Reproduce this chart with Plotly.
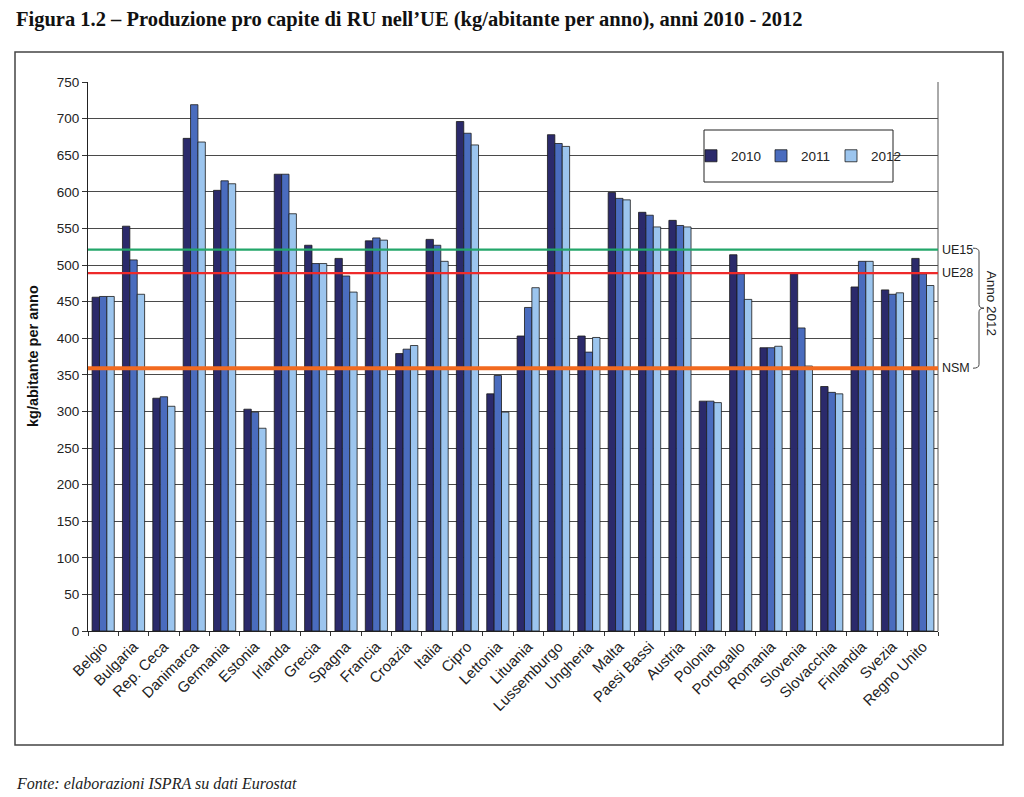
import plotly.graph_objects as go

regions = ["Belgio", "Bulgaria", "Rep. Ceca", "Danimarca", "Germania", "Estonia", "Irlanda",
           "Grecia", "Spagna", "Francia", "Croazia", "Italia", "Cipro", "Lettonia", "Lituania",
           "Lussemburgo", "Ungheria", "Malta", "Paesi Bassi", "Austria", "Polonia", "Portogallo",
           "Romania", "Slovenia", "Slovacchia", "Finlandia", "Svezia", "Regno Unito"]
v2010 = [456, 553, 318, 673, 602, 303, 624, 527, 509, 533, 379, 535, 696, 324, 403,
         678, 403, 599, 572, 561, 314, 514, 387, 488, 334, 470, 466, 509]
v2011 = [457, 507, 320, 719, 615, 299, 624, 502, 485, 537, 385, 527, 680, 349, 442,
         666, 381, 591, 568, 554, 314, 488, 387, 414, 326, 505, 460, 488]
v2012 = [457, 460, 307, 668, 611, 277, 570, 502, 463, 534, 390, 505, 664, 299, 469,
         662, 401, 589, 552, 552, 312, 453, 389, 362, 324, 505, 462, 472]
series_names = ["2010", "2011", "2012"]
series_colors = ["#2B2A6B", "#4A6CBE", "#9CC5EE"]

ref_labels = ["UE15", "UE28", "NSM"]
ref_values = [521, 489, 359]
ref_colors = ["#23A66A", "#EE2A2A", "#F26A1F"]
ref_widths = [2.2, 2.2, 4]

title_text = "Figura 1.2 \u2013 Produzione pro capite di RU nell\u2019UE (kg/abitante per anno), anni 2010 - 2012"
source_text = "Fonte: elaborazioni ISPRA su dati Eurostat"

W, H = 1024, 797
L, R, T, B = 88, 938, 82, 631
def px(x):
    return (x - L) / (R - L)
def py(y):
    return (B - y) / (B - T)

fig = go.Figure()
for name, vals, col in zip(series_names, [v2010, v2011, v2012], series_colors):
    fig.add_trace(go.Bar(x=regions, y=vals, name=name,
                         marker=dict(color=col, line=dict(color="#1a1a1a", width=0.8))))

shapes = []
annotations = []
# outer frame
shapes.append(dict(type="rect", xref="paper", yref="paper",
                   x0=px(15), x1=px(1003), y0=py(745), y1=py(52),
                   line=dict(color="#444", width=1.5), layer="below"))
# right border of plot area
shapes.append(dict(type="line", xref="x domain", yref="y domain", x0=1, x1=1, y0=0, y1=1,
                   line=dict(color="#555", width=1)))
for lab, val, col, w in zip(ref_labels, ref_values, ref_colors, ref_widths):
    shapes.append(dict(type="line", xref="x domain", yref="y", x0=0, x1=1, y0=val, y1=val,
                       line=dict(color=col, width=w), layer="above"))
    annotations.append(dict(text=lab, xref="paper", yref="y", x=px(940), y=val,
                            xanchor="left", yanchor="middle", showarrow=False,
                            font=dict(family="Liberation Sans", size=12.5, color="#222")))
# legend box
shapes.append(dict(type="rect", xref="paper", yref="paper",
                   x0=px(704), x1=px(893), y0=py(182), y1=py(130),
                   fillcolor="white", line=dict(color="#222", width=1), layer="above"))
# brace
top, bot = ref_values[0] + 2, ref_values[-1]
mid = (top + bot) / 2
xa, xb, xc = px(973), px(979), px(984)
d = 5
path = (f"M {xa},{top} Q {xb},{top} {xb},{top-d} L {xb},{mid+d} Q {xb},{mid} {xc},{mid} "
        f"Q {xb},{mid} {xb},{mid-d} L {xb},{bot+d} Q {xb},{bot} {xa},{bot}")
shapes.append(dict(type="path", xref="paper", yref="y", path=path,
                   line=dict(color="#444", width=1)))
annotations.append(dict(text="Anno 2012", xref="paper", yref="y", x=px(991), y=mid + 6,
                        textangle=90, showarrow=False, xanchor="center", yanchor="middle",
                        font=dict(family="Liberation Sans", size=13.5, color="#222")))
annotations.append(dict(text="<b>" + title_text + "</b>", xref="paper", yref="paper",
                        x=px(14), y=py(19), xanchor="left", yanchor="middle", showarrow=False,
                        font=dict(family="Liberation Serif", size=20.5, color="#111")))
annotations.append(dict(text="<i>" + source_text + "</i>", xref="paper", yref="paper",
                        x=px(14), y=py(783), xanchor="left", yanchor="middle", showarrow=False,
                        font=dict(family="Liberation Serif", size=16, color="#222")))
annotations.append(dict(text="<b>kg/abitante per anno</b>", xref="paper", yref="paper",
                        x=px(33), y=py(356), textangle=-90, xanchor="center", yanchor="middle",
                        showarrow=False, font=dict(family="Liberation Sans", size=14.5, color="#111")))

fig.update_layout(
    width=W, height=H,
    margin=dict(l=L, r=W - R, t=T, b=H - B),
    paper_bgcolor="white", plot_bgcolor="white",
    barmode="group", bargap=0.27, bargroupgap=0,
    font=dict(family="Liberation Sans", size=13, color="#222"),
    shapes=shapes, annotations=annotations,
    legend=dict(orientation="h", x=px(796), y=py(156), xanchor="center", yanchor="middle",
                bgcolor="rgba(0,0,0,0)", borderwidth=0,
                font=dict(family="Liberation Sans", size=13.5, color="#222"),
                itemwidth=30, entrywidth=25, entrywidthmode="pixels", tracegroupgap=0),
    xaxis=dict(tickangle=-45, tickson="boundaries", ticks="outside", ticklen=4,
               tickcolor="#333", showline=True, linecolor="#222", linewidth=1,
               showgrid=False, tickfont=dict(size=15, color="#222")),
    yaxis=dict(range=[0, 750], dtick=50, ticks="outside", ticklen=5, tickcolor="#333",
               showline=True, linecolor="#222", linewidth=1, showgrid=True,
               gridcolor="#4a4a4a", gridwidth=1, zeroline=False,
               tickfont=dict(size=13.5, color="#222")),
)
fig.write_html("out.html", post_script="document.body.style.margin='0px';",
               config={"displayModeBar": False})
